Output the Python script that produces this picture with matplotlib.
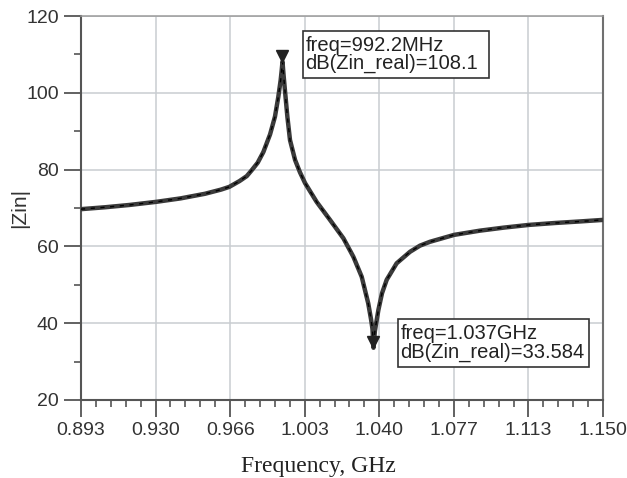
import numpy as np
import matplotlib.pyplot as plt
from matplotlib.patches import Rectangle
from matplotlib.transforms import offset_copy

# values (GHz, |Zin|)
freq = [0.893, 0.905, 0.917, 0.930, 0.942, 0.954, 0.962, 0.966, 0.971, 0.9746,
        0.977, 0.980, 0.9828, 0.9861, 0.9885, 0.9901, 0.9913, 0.9918, 0.9922,
        0.9927, 0.9934, 0.9946, 0.9959, 0.9984, 1.0008, 1.0033, 1.009, 1.0156,
        1.0222, 1.0271, 1.0312, 1.0344, 1.0358, 1.0365, 1.0370, 1.0377, 1.0394,
        1.0412, 1.0435, 1.0484, 1.055, 1.0599, 1.0648, 1.0767, 1.0894, 1.1013,
        1.1136, 1.1265, 1.1387, 1.150]
zin = [69.7, 70.2, 70.8, 71.6, 72.5, 73.7, 74.8, 75.5, 77.0, 78.3,
       79.8, 81.8, 84.6, 89.2, 93.8, 98.8, 103.3, 105.8, 108.1,
       104.8, 100.7, 93.8, 87.7, 82.5, 79.3, 76.5, 71.6, 66.9,
       62.1, 57.3, 52.1, 45.2, 41.0, 38.5, 33.6, 38.0, 43.4,
       47.8, 51.3, 55.6, 58.6, 60.2, 61.2, 63.0, 64.1, 64.9,
       65.6, 66.1, 66.5, 66.9]

marker_f = [0.9922, 1.037]
marker_z = [108.1, 33.584]
marker_txt = ["freq=992.2MHz\ndB(Zin_real)=108.1",
              "freq=1.037GHz\ndB(Zin_real)=33.584"]

xticks = np.linspace(0.893, 1.150, 8)
xlabels = ["0.893", "0.930", "0.966", "1.003", "1.040", "1.077", "1.113", "1.150"]
yticks = [20, 40, 60, 80, 100, 120]

plt.rcParams['font.family'] = ['Liberation Sans', 'DejaVu Sans']

fig = plt.figure(figsize=(6.27, 4.78), dpi=100)
ax = fig.add_axes([81/627, 1 - 400/478, 522/627, 384/478])

ax.plot(freq, zin, color='#3a3a3a', lw=3.2, solid_joinstyle='round', zorder=3)
ax.plot(freq, zin, color='black', lw=1.0, ls=(0, (3, 4)), zorder=4)

# triangle markers sit just above the point
tr = offset_copy(ax.transData, fig=fig, y=4, units='points')
ax.plot(marker_f, marker_z, 'v', color='#222222', ms=8, transform=tr, zorder=5)

ax.set_xlim(0.893, 1.150)
ax.set_ylim(20, 120)
ax.set_xticks(xticks)
ax.set_xticklabels(xlabels)
ax.set_xticks(np.linspace(0.893, 1.150, 36), minor=True)
ax.set_yticks(yticks)
ax.set_yticks([30, 50, 70, 90, 110], minor=True)

ax.grid(True, which='major', color='#c9cdd1', lw=1.1, zorder=0)
ax.set_axisbelow(True)

for s in ['left', 'bottom']:
    ax.spines[s].set_color('#555555')
    ax.spines[s].set_linewidth(1.5)
ax.spines['top'].set_color('#9a9a9a')
ax.spines['top'].set_linewidth(1.1)
ax.spines['right'].set_color('#707070')
ax.spines['right'].set_linewidth(1.5)

ax.tick_params(which='major', direction='out', length=12, width=1.3, color='#555555',
               labelsize=14, labelcolor='#333333', pad=4)
ax.tick_params(which='minor', direction='out', length=5, width=1.2, color='#555555')

ax.set_xlabel("Frequency, GHz", family='Liberation Serif', fontsize=17, color='#222222')
ax.xaxis.set_label_coords(0.454, -0.145)
ax.set_ylabel("|Zin|", fontsize=15, color='#333333')
ax.yaxis.set_label_coords(-0.1, 0.5)

# marker readout boxes
boxes = [(0.4253, 0.8385, 0.3563, 0.1224), (0.6073, 0.0859, 0.3659, 0.125)]
for (x0, y0, w, h), txt in zip(boxes, marker_txt):
    ax.add_patch(Rectangle((x0, y0), w, h, transform=ax.transAxes, fill=True,
                           facecolor='white', edgecolor='#333333', lw=1.2, zorder=6))
    ax.text(x0 + 0.005, y0 + h / 2, txt, transform=ax.transAxes, ha='left', va='center',
            fontsize=14.5, color='#222222', linespacing=0.92, zorder=7)

fig.savefig("out.png", dpi=100)
